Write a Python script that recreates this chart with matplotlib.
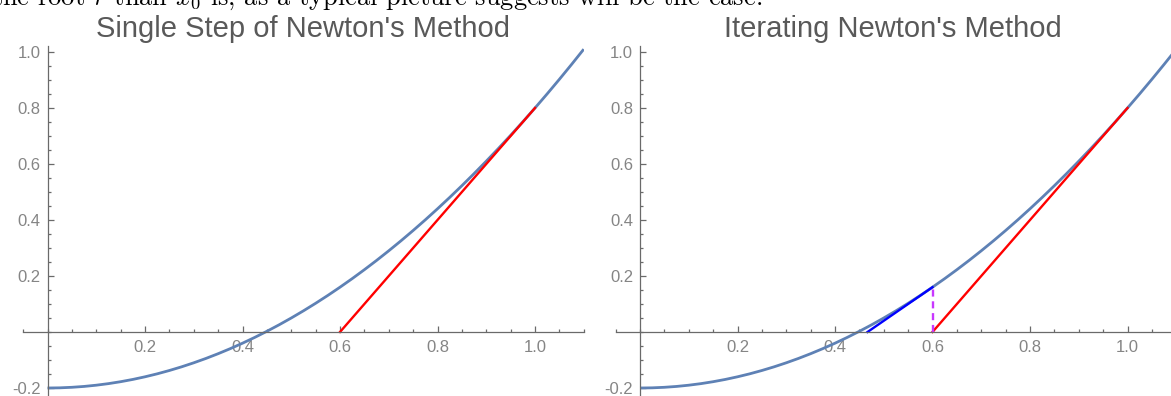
import matplotlib
matplotlib.use("Agg")
import matplotlib.pyplot as plt
from matplotlib.ticker import MultipleLocator, FixedLocator

plt.rcParams['mathtext.fontset'] = 'cm'

# ---- data ----
curve_x = [0.0, 0.025, 0.05, 0.075, 0.1, 0.125, 0.15, 0.175, 0.2, 0.225, 0.25,
           0.275, 0.3, 0.325, 0.35, 0.375, 0.4, 0.425, 0.45, 0.475, 0.5, 0.525,
           0.55, 0.575, 0.6, 0.625, 0.65, 0.675, 0.7, 0.725, 0.75, 0.775, 0.8,
           0.825, 0.85, 0.875, 0.9, 0.925, 0.95, 0.975, 1.0, 1.025, 1.05, 1.075, 1.1]
curve_y = [-0.2, -0.1994, -0.1975, -0.1944, -0.19, -0.1844, -0.1775, -0.1694, -0.16,
           -0.1494, -0.1375, -0.1244, -0.11, -0.0944, -0.0775, -0.0594, -0.04,
           -0.0194, 0.0025, 0.0256, 0.05, 0.0756, 0.1025, 0.1306, 0.16, 0.1906,
           0.2225, 0.2556, 0.29, 0.3256, 0.3625, 0.4006, 0.44, 0.4806, 0.5225,
           0.5656, 0.61, 0.6556, 0.7025, 0.7506, 0.8, 0.8506, 0.9025, 0.9556, 1.01]
tangent1_x = [0.6, 1.0]
tangent1_y = [0.0, 0.8]
tangent2_x = [0.4667, 0.6]
tangent2_y = [0.0, 0.16]
drop_x = [0.6, 0.6]
drop_y = [0.0, 0.16]
xtick_vals = [0.2, 0.4, 0.6, 0.8, 1.0]
ytick_vals = [-0.2, 0.2, 0.4, 0.6, 0.8, 1.0]
titles = ["Single Step of Newton's Method", "Iterating Newton's Method"]
top_text = "the root $r$ than $x_0$ is, as a typical picture suggests will be the case."

W, H = 1171, 396
fig = plt.figure(figsize=(W / 100, H / 100), dpi=100)

SX = 487.5   # px per x unit
SY = 280.0   # px per y unit
Y0 = 332     # pixel row of y = 0
YLO, YHI = -0.228, 1.02
AX_H = (YHI - YLO) * SY

def make_axes(x0_px, xlo, xhi):
    left = x0_px + xlo * SX
    right = x0_px + xhi * SX
    top = Y0 - YHI * SY
    bottom = Y0 - YLO * SY
    ax = fig.add_axes([left / W, 1 - bottom / H, (right - left) / W, (bottom - top) / H])
    ax.set_xlim(xlo, xhi)
    ax.set_ylim(YLO, YHI)
    return ax

AXC = '#6a6a6a'
LBC = '#858585'
TTC = '#595959'

def style(ax, title):
    ax.patch.set_alpha(0)
    for s in ['top', 'right']:
        ax.spines[s].set_visible(False)
    ax.spines['left'].set_position(('data', 0))
    ax.spines['bottom'].set_position(('data', 0))
    for s in ['left', 'bottom']:
        ax.spines[s].set_color(AXC)
        ax.spines[s].set_linewidth(0.9)
    ax.xaxis.set_major_locator(FixedLocator(xtick_vals))
    ax.yaxis.set_major_locator(FixedLocator(ytick_vals))
    ax.xaxis.set_minor_locator(MultipleLocator(0.05))
    ax.yaxis.set_minor_locator(MultipleLocator(0.05))
    ax.set_xticklabels([f"{v:.1f}" for v in xtick_vals])
    ax.set_yticklabels([f"{v:.1f}" for v in ytick_vals])
    ax.tick_params(which='both', direction='in', color=AXC, width=0.9,
                   labelcolor=LBC, labelsize=12)
    ax.tick_params(which='major', length=4.5)
    ax.tick_params(axis='x', which='major', pad=6)
    ax.tick_params(axis='y', which='major', pad=5)
    ax.tick_params(which='minor', length=2.5)
    ax.text(0.5, 1.0 + 9.5 / AX_H, title, transform=ax.transAxes, ha='center',
            va='baseline', fontsize=21, color=TTC, family='Liberation Sans')
    for lab in ax.get_xticklabels() + ax.get_yticklabels():
        lab.set_family('Liberation Sans')

CURVE = '#5E81B5'

ax1 = make_axes(47.5, -0.05, 1.1)
style(ax1, titles[0])
ax1.plot(curve_x, curve_y, color=CURVE, lw=2.0, solid_capstyle='butt')
ax1.plot(tangent1_x, tangent1_y, color='#FF0000', lw=1.7)

ax2 = make_axes(640, -0.05, (W - 640) / SX)
style(ax2, titles[1])
ax2.plot(curve_x, curve_y, color=CURVE, lw=2.0, solid_capstyle='butt')
ax2.plot(tangent1_x, tangent1_y, color='#FF0000', lw=1.7)
ax2.plot(tangent2_x, tangent2_y, color='#0000FF', lw=1.7)
ax2.plot(drop_x, drop_y, color='#C837FF', lw=1.7, linestyle=(0, (3, 2)))

fig.text(-8 / W, 1 - 5 / H, top_text, ha='left', va='baseline', fontsize=19,
         family='cmr10', color='black')

fig.savefig('out.png', dpi=100)
